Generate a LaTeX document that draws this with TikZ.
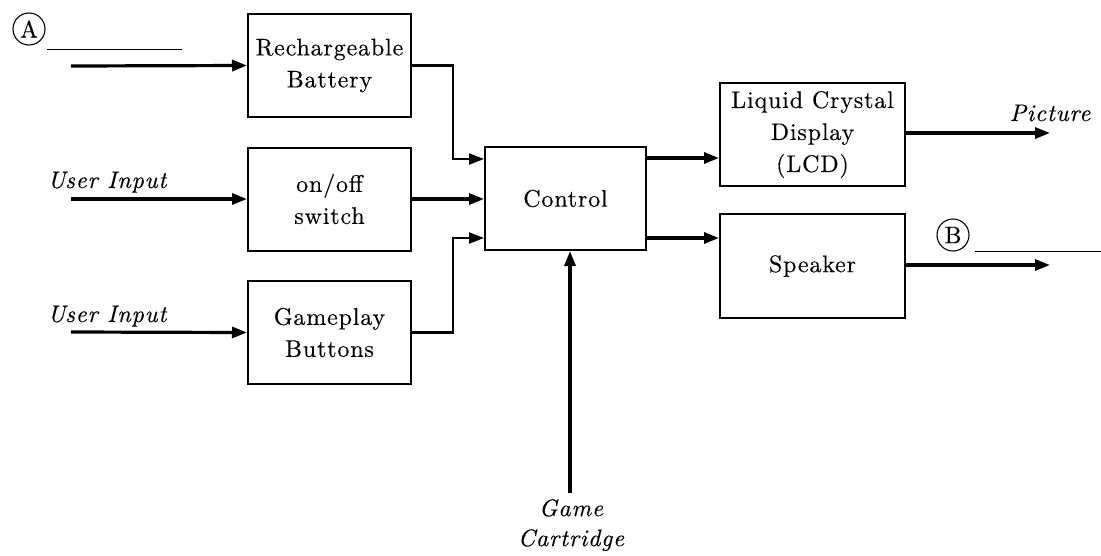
\documentclass[tikz,border=0pt]{standalone}
\usepackage{fontspec}
\setmainfont{lmroman10-regular.otf}[ItalicFont=lmroman10-italic.otf,BoldFont=lmroman10-bold.otf,LetterSpace=3.5,FakeBold=0.3]
\usetikzlibrary{arrows.meta}
\begin{document}
\begin{tikzpicture}[x=1pt,y=-1pt,
  font=\fontsize{24}{32}\selectfont,
  blk/.style={draw,line width=2pt,minimum width=163pt,minimum height=103pt,align=center,inner sep=0pt},
  arr/.style={line width=3.2pt,-{Triangle[length=15pt,width=11pt]}},
  conn/.style={line width=2.2pt,-{Triangle[length=15pt,width=11pt]}},
  lbl/.style={font=\fontsize{24}{30}\selectfont\itshape,inner sep=0pt},
  circ/.style={draw,circle,line width=1.1pt,minimum size=32pt,inner sep=0pt,font=\fontsize{24}{24}\selectfont},
  thin/.style={line width=1pt}]
\useasboundingbox (0,0) rectangle (1101,555);

% blocks
\node[blk] (bat) at (329.5,65.5) {Rechargeable\\Battery};
\node[blk] (sw)  at (329.5,199) {on/off\\switch};
\node[blk] (gp)  at (329.5,332.5) {Gameplay\\Buttons};
\node[blk,minimum width=161pt] (ctl) at (565.5,198.5) {Control};
\node[blk,minimum width=185pt] (lcd) at (812.5,134.5) {Liquid Crystal\\Display\\(LCD)};
\node[blk,minimum width=185pt,minimum height=104pt] (spk) at (812.5,266) {Speaker};

% input coordinates
\coordinate (inA) at (71,66);
\coordinate (in1) at (71,199);
\coordinate (in2) at (71,332);
\coordinate (gcin) at (570,493);
\coordinate (outP) at (1050,133);
\coordinate (outB) at (1050,265);

% markers A and B
\node[circ] (A) at (29,29) {A};
\coordinate (Aline1) at (47,49);
\coordinate (Aline2) at (182,49);
\draw[thin] (Aline1) -- (Aline2);
\node[circ] (B) at (953,235) {B};
\coordinate (Bline1) at (975,251);
\coordinate (Bline2) at (1101,251);
\draw[thin] (Bline1) -- (Bline2);

% labels
\node[lbl,anchor=base] (ui1) at (107,188) {User Input};
\node[lbl,anchor=base] (ui2) at (107,322) {User Input};
\node[lbl,anchor=base] (pic) at (1050,121) {Picture};
\node[lbl,anchor=north,align=center] (gc) at (571,499) {Game\\Cartridge};

% input arrows
\draw[arr] (inA) -- (bat.west);
\draw[arr] (in1) -- (sw.west);
\draw[arr] (in2) -- (gp.west);

% into control
\draw[conn] (bat.east) -- ++(41,0) |- ([yshift=39.5pt]ctl.west);
\draw[arr] (sw.east) -- (sw.east -| ctl.west);
\draw[conn] (gp.east) -- ++(41,0) |- ([yshift=-39.5pt]ctl.west);
\draw[arr] (gcin) -- (gcin |- ctl.south);

% control outputs
\draw[arr] ([yshift=40.5pt]ctl.east) coordinate (c1) -- (c1 -| lcd.west);
\draw[arr] ([yshift=-39.5pt]ctl.east) coordinate (c2) -- (c2 -| spk.west);

% outputs
\draw[arr] (lcd.east |- outP) -- (outP);
\draw[arr] (spk.east |- outB) -- (outB);
\end{tikzpicture}
\end{document}
